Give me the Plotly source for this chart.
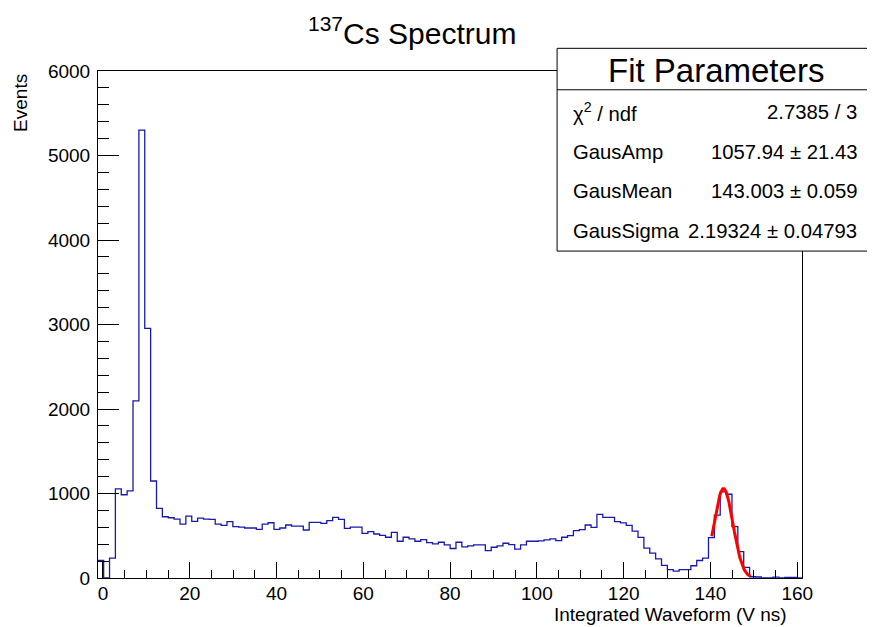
import numpy as np
import plotly.graph_objects as go

# ---------------- data ----------------
hist_xmin = -1.2
hist_xmax = 161.2
n_bins = 120
counts = [
    207, 0, 235, 1055, 985, 1030, 2097, 5300, 2955, 1148,
    823, 725, 713, 697, 638, 733, 670, 709, 697, 693,
    638, 623, 666, 607, 603, 592, 592, 576, 638, 654,
    576, 592, 627, 615, 615, 568, 659, 659, 647, 678,
    717, 694, 588, 603, 603, 529, 548, 521, 505, 482,
    541, 435, 482, 462, 435, 455, 419, 403, 423, 392,
    349, 423, 368, 380, 392, 392, 325, 364, 380, 411,
    396, 341, 392, 435, 435, 439, 451, 462, 443, 482,
    502, 560, 572, 627, 600, 752, 717, 717, 666, 652,
    623, 554, 480, 353, 294, 227, 149, 98, 82, 98,
    98, 145, 207, 235, 478, 744, 1019, 991, 607, 313,
    125, 15, 12, 0, 0, 10, 0, 8, 8, 0,
]
fit_amp = 1057.94
fit_amp_err = 21.43
fit_mean = 143.003
fit_mean_err = 0.059
fit_sigma = 2.19324
fit_sigma_err = 0.04793
chi2 = 2.7385
ndf = 3
fit_range = [140.3, 149.2]

x_tickvals = [0, 20, 40, 60, 80, 100, 120, 140, 160]
y_tickvals = [0, 1000, 2000, 3000, 4000, 5000, 6000]

title_text = "<sup>137</sup>Cs Spectrum"
x_title = "Integrated Waveform (V ns)"
y_title = "Events"

# ---------------- geometry ----------------
# the page body has an 8px margin, so the figure is offset by 8px
OFF = 8
W, H = 875 - OFF, 627 - OFF
# frame in window pixels
FL, FR, FT, FB = 98.3, 801.7, 70.7, 578.3
ML, MR, MT, MB = FL - OFF, (875 - FR), FT - OFF, (627 - FB)


def px(x):
    return (x - FL) / (FR - FL)


def py(y):
    return (FB - y) / (FB - FT)


FONT = "Liberation Sans, Arial, Helvetica, sans-serif"

bw = (hist_xmax - hist_xmin) / n_bins
edges = [hist_xmin + i * bw for i in range(n_bins + 1)]
step_x = edges
step_y = counts + [counts[-1]]

fx = np.linspace(fit_range[0], fit_range[1], 120)
fy = fit_amp * np.exp(-0.5 * ((fx - fit_mean) / fit_sigma) ** 2)

fig = go.Figure()
fig.add_trace(go.Scatter(
    x=step_x, y=step_y, mode="lines", line=dict(color="#1a1aa8", width=1.3, shape="hv"),
    showlegend=False, hoverinfo="skip",
))
fig.add_trace(go.Scatter(
    x=fx, y=fy, mode="lines", line=dict(color="#ff0000", width=3),
    showlegend=False, hoverinfo="skip",
))

fig.update_layout(
    width=W, height=H,
    margin=dict(l=ML, r=MR, t=MT, b=MB, pad=0, autoexpand=False),
    paper_bgcolor="white", plot_bgcolor="white",
    font=dict(family=FONT, color="black", size=19),
    showlegend=False,
)
fig.update_xaxes(
    range=[-1.15, 161.1], showgrid=False, zeroline=False,
    showline=True, linecolor="black", linewidth=1, mirror=True,
    ticks="inside", ticklen=16, tickcolor="black", tickwidth=1,
    tickvals=x_tickvals, ticktext=[str(v) for v in x_tickvals],
    tickfont=dict(size=19, family=FONT, color="black"),
    ticklabelstandoff=-2,
    minor=dict(ticks="inside", ticklen=8, dtick=5, tick0=0, tickcolor="black", tickwidth=1, showgrid=False),
)
fig.update_yaxes(
    range=[0, 6000], showgrid=False, zeroline=False,
    showline=True, linecolor="black", linewidth=1, mirror=True,
    ticks="inside", ticklen=21, tickcolor="black", tickwidth=1,
    tickvals=y_tickvals, ticktext=[str(v) for v in y_tickvals],
    tickfont=dict(size=19, family=FONT, color="black"),
    ticklabelstandoff=3,
    minor=dict(ticks="inside", ticklen=10.5, dtick=200, tick0=0, tickcolor="black", tickwidth=1, showgrid=False),
)

ann = []
# title
ann.append(dict(text=title_text, x=px(412), y=py(31), xref="paper", yref="paper",
                xanchor="center", yanchor="middle", showarrow=False,
                font=dict(size=30, family=FONT, color="black")))
# axis titles
ann.append(dict(text=x_title, x=px(789), y=py(614.5), xref="paper", yref="paper",
                xanchor="right", yanchor="middle", showarrow=False,
                font=dict(size=19, family=FONT, color="black")))
ann.append(dict(text=y_title, x=px(21.5), y=py(102.5), xref="paper", yref="paper",
                xanchor="center", yanchor="middle", showarrow=False, textangle=-90,
                font=dict(size=19, family=FONT, color="black")))

# stats box
box_l, box_r, box_t, box_b, box_sep = 557, 869, 48, 251, 89.5
shapes = [
    dict(type="rect", xref="paper", yref="paper", x0=px(box_l), x1=px(box_r),
         y0=py(box_b), y1=py(box_t), line=dict(color="black", width=1),
         fillcolor="white", layer="above"),
    dict(type="line", xref="paper", yref="paper", x0=px(box_l), x1=px(box_r),
         y0=py(box_sep), y1=py(box_sep), line=dict(color="black", width=1), layer="above"),
]
ann.append(dict(text="Fit Parameters", x=px(716), y=py(70), xref="paper", yref="paper",
                xanchor="center", yanchor="middle", showarrow=False,
                font=dict(size=33, family=FONT, color="black")))
rows = [
    ("\u03c7<sup>2</sup> / ndf", f"{chi2:.4f} / {ndf}", 111.5),
    ("GausAmp", f"{fit_amp:.2f} \u00b1 {fit_amp_err:.2f}", 151.5),
    ("GausMean", f"{fit_mean:.3f} \u00b1 {fit_mean_err:.3f}", 191),
    ("GausSigma", f"{fit_sigma:.5f} \u00b1 {fit_sigma_err:.5f}", 230.5),
]
for lab, val, yy in rows:
    ann.append(dict(text=lab, x=px(571), y=py(yy), xref="paper", yref="paper",
                    xanchor="left", yanchor="middle", showarrow=False,
                    font=dict(size=20.3, family=FONT, color="black")))
    ann.append(dict(text=val, x=px(859), y=py(yy), xref="paper", yref="paper",
                    xanchor="right", yanchor="middle", showarrow=False,
                    font=dict(size=20.3, family=FONT, color="black")))

fig.update_layout(annotations=ann, shapes=shapes)
fig.write_html("out.html")
